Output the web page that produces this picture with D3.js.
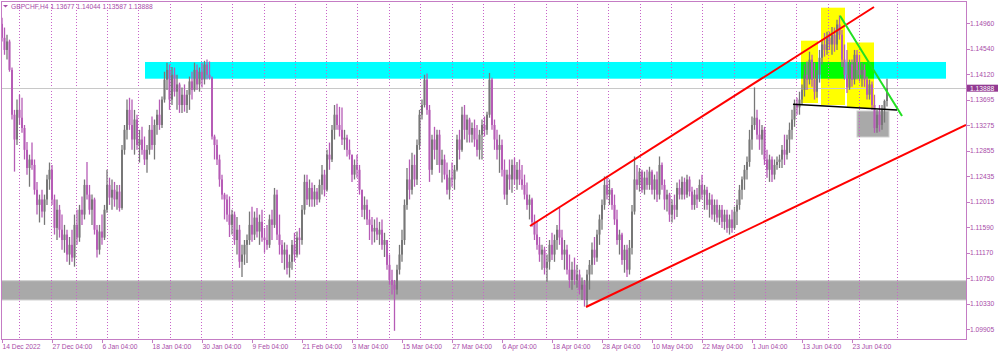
<!DOCTYPE html>
<html>
<head>
<meta charset="utf-8">
<script src="https://cdn.jsdelivr.net/npm/d3@7"></script>
<style>
body { margin: 0; background: #fff; }
svg { display: block; font-family: "Liberation Sans", Arial, sans-serif; }
</style>
</head>
<body>
<div id="chart"></div>
<script>
// GBPCHF H4 bars (open = previous close)
const symbol = "GBPCHF,H4";
const firstOpen = 1.1495;
const highs = [
  1.1505,1.1489,1.1477,1.1469,1.1423,1.1353,1.1370,1.1378,1.1373,1.1328,
  1.1300,1.1279,1.1299,1.1271,1.1234,1.1213,1.1221,1.1213,1.1246,1.1266,
  1.1262,1.1213,1.1205,1.1196,1.1180,1.1163,1.1155,1.1143,1.1155,1.1180,
  1.1188,1.1196,1.1210,1.1238,1.1267,1.1229,1.1213,1.1208,1.1163,1.1163,
  1.1180,1.1196,1.1254,1.1241,1.1238,1.1234,1.1229,1.1229,1.1295,1.1328,
  1.1370,1.1373,1.1370,1.1353,1.1345,1.1320,1.1325,1.1309,1.1295,1.1328,
  1.1342,1.1337,1.1353,1.1370,1.1375,1.1416,1.1431,1.1428,1.1424,1.1423,
  1.1411,1.1398,1.1390,1.1395,1.1386,1.1408,1.1416,1.1431,1.1428,1.1423,
  1.1431,1.1434,1.1436,1.1433,1.1408,1.1312,1.1304,1.1279,1.1246,1.1216,
  1.1213,1.1210,1.1188,1.1185,1.1176,1.1163,1.1130,1.1138,1.1147,1.1185,
  1.1193,1.1185,1.1191,1.1180,1.1188,1.1158,1.1163,1.1180,1.1188,1.1224,
  1.1221,1.1180,1.1138,1.1134,1.1130,1.1114,1.1138,1.1150,1.1152,1.1158,
  1.1196,1.1246,1.1246,1.1238,1.1233,1.1229,1.1224,1.1238,1.1262,1.1254,
  1.1287,1.1299,1.1328,1.1361,1.1363,1.1358,1.1357,1.1320,1.1312,1.1304,
  1.1279,1.1271,1.1279,1.1262,1.1221,1.1210,1.1205,1.1188,1.1176,1.1172,
  1.1175,1.1168,1.1172,1.1150,1.1138,1.1114,1.1089,1.1072,1.1097,1.1130,
  1.1155,1.1205,1.1257,1.1271,1.1282,1.1279,1.1304,1.1353,1.1370,1.1411,
  1.1413,1.1361,1.1312,1.1325,1.1320,1.1320,1.1287,1.1279,1.1266,1.1254,
  1.1266,1.1262,1.1312,1.1320,1.1358,1.1361,1.1345,1.1340,1.1332,1.1337,
  1.1328,1.1320,1.1337,1.1342,1.1350,1.1414,1.1406,1.1337,1.1320,1.1312,
  1.1304,1.1271,1.1254,1.1271,1.1271,1.1274,1.1267,1.1271,1.1262,1.1246,
  1.1233,1.1213,1.1208,1.1180,1.1168,1.1143,1.1130,1.1127,1.1114,1.1138,
  1.1150,1.1147,1.1163,1.1191,1.1155,1.1138,1.1130,1.1114,1.1102,1.1109,
  1.1097,1.1089,1.1076,1.1072,1.1089,1.1105,1.1134,1.1143,1.1155,1.1180,
  1.1205,1.1243,1.1244,1.1238,1.1224,1.1213,1.1188,1.1155,1.1150,1.1130,
  1.1130,1.1138,1.1196,1.1276,1.1262,1.1257,1.1254,1.1251,1.1254,1.1259,
  1.1254,1.1246,1.1251,1.1276,1.1266,1.1238,1.1221,1.1216,1.1205,1.1213,
  1.1233,1.1238,1.1243,1.1241,1.1246,1.1243,1.1226,1.1221,1.1224,1.1238,
  1.1246,1.1229,1.1226,1.1216,1.1213,1.1205,1.1205,1.1196,1.1196,1.1188,
  1.1188,1.1180,1.1188,1.1193,1.1205,1.1229,1.1243,1.1262,1.1276,1.1320,
  1.1342,1.1390,1.1353,1.1337,1.1328,1.1325,1.1287,1.1279,1.1276,1.1271,
  1.1276,1.1279,1.1295,1.1312,1.1312,1.1332,1.1353,1.1370,1.1373,1.1383,
  1.1395,1.1428,1.1433,1.1449,1.1444,1.1431,1.1419,1.1452,1.1469,1.1480,
  1.1482,1.1482,1.1490,1.1489,1.1502,1.1509,1.1485,1.1461,1.1452,1.1436,
  1.1436,1.1452,1.1452,1.1444,1.1431,1.1428,1.1408,1.1403,1.1400,1.1378,
  1.1353,1.1361,1.1361,1.1370,1.14044
];
const lows = [
  1.1466,1.1444,1.1436,1.1416,1.1337,1.1251,1.1295,1.1328,1.1315,1.1271,
  1.1246,1.1226,1.1254,1.1213,1.1180,1.1167,1.1175,1.1163,1.1196,1.1221,
  1.1196,1.1147,1.1138,1.1142,1.1122,1.1117,1.1102,1.1097,1.1102,1.1094,
  1.1130,1.1135,1.1163,1.1172,1.1205,1.1180,1.1163,1.1147,1.1109,1.1114,
  1.1130,1.1138,1.1183,1.1196,1.1188,1.1193,1.1188,1.1185,1.1188,1.1279,
  1.1304,1.1320,1.1287,1.1279,1.1287,1.1266,1.1279,1.1262,1.1249,1.1279,
  1.1287,1.1271,1.1312,1.1320,1.1323,1.1365,1.1386,1.1353,1.1361,1.1375,
  1.1353,1.1348,1.1348,1.1350,1.1348,1.1353,1.1370,1.1383,1.1386,1.1383,
  1.1390,1.1395,1.1403,1.1403,1.1304,1.1271,1.1262,1.1226,1.1205,1.1172,
  1.1168,1.1143,1.1147,1.1130,1.1114,1.1092,1.1077,1.1097,1.1100,1.1130,
  1.1135,1.1138,1.1142,1.1130,1.1135,1.1117,1.1122,1.1125,1.1138,1.1158,
  1.1138,1.1114,1.1100,1.1089,1.1081,1.1076,1.1089,1.1102,1.1109,1.1114,
  1.1130,1.1180,1.1196,1.1193,1.1193,1.1193,1.1196,1.1200,1.1213,1.1210,
  1.1218,1.1254,1.1267,1.1304,1.1320,1.1309,1.1295,1.1287,1.1276,1.1271,
  1.1234,1.1238,1.1241,1.1213,1.1176,1.1172,1.1163,1.1138,1.1130,1.1134,
  1.1138,1.1130,1.1122,1.1110,1.1089,1.1064,1.1048,1.0988,1.1048,1.1081,
  1.1102,1.1130,1.1188,1.1205,1.1213,1.1226,1.1229,1.1287,1.1337,1.1357,
  1.1345,1.1234,1.1246,1.1271,1.1262,1.1249,1.1233,1.1238,1.1213,1.1205,
  1.1226,1.1221,1.1251,1.1271,1.1284,1.1304,1.1299,1.1299,1.1299,1.1292,
  1.1276,1.1271,1.1271,1.1309,1.1312,1.1340,1.1320,1.1287,1.1271,1.1249,
  1.1243,1.1205,1.1196,1.1221,1.1216,1.1229,1.1221,1.1229,1.1221,1.1205,
  1.1188,1.1172,1.1160,1.1138,1.1122,1.1102,1.1089,1.1081,1.1069,1.1089,
  1.1105,1.1102,1.1122,1.1130,1.1105,1.1089,1.1081,1.1059,1.1056,1.1064,
  1.1059,1.1048,1.1039,1.1028,1.1028,1.1056,1.1081,1.1097,1.1102,1.1130,
  1.1155,1.1188,1.1205,1.1196,1.1188,1.1163,1.1130,1.1114,1.1097,1.1084,
  1.1077,1.1081,1.1114,1.1180,1.1221,1.1218,1.1216,1.1213,1.1221,1.1221,
  1.1213,1.1205,1.1201,1.1205,1.1221,1.1188,1.1185,1.1168,1.1167,1.1172,
  1.1176,1.1205,1.1205,1.1205,1.1208,1.1210,1.1188,1.1188,1.1191,1.1201,
  1.1205,1.1188,1.1188,1.1175,1.1172,1.1168,1.1167,1.1163,1.1158,1.1155,
  1.1150,1.1147,1.1150,1.1155,1.1163,1.1188,1.1205,1.1221,1.1238,1.1259,
  1.1287,1.1320,1.1304,1.1287,1.1279,1.1262,1.1241,1.1234,1.1234,1.1238,
  1.1254,1.1257,1.1257,1.1262,1.1271,1.1282,1.1304,1.1325,1.1345,1.1345,
  1.1361,1.1375,1.1386,1.1395,1.1391,1.1370,1.1373,1.1398,1.1428,1.1441,
  1.1444,1.1452,1.1444,1.1449,1.1452,1.1469,1.1424,1.1403,1.1381,1.1386,
  1.1391,1.1395,1.1403,1.1400,1.1391,1.1391,1.1370,1.1370,1.1353,1.1315,
  1.1315,1.1317,1.1320,1.1332,1.13587
];
const closes = [
  1.1472,1.1452,1.1466,1.1419,1.1345,1.1304,1.1353,1.1340,1.1323,1.1287,
  1.1257,1.1271,1.1262,1.1221,1.1196,1.1205,1.1185,1.1205,1.1238,1.1254,
  1.1205,1.1158,1.1188,1.1155,1.1138,1.1147,1.1114,1.1130,1.1109,1.1163,
  1.1142,1.1188,1.1180,1.1229,1.1213,1.1188,1.1205,1.1155,1.1122,1.1152,
  1.1142,1.1188,1.1229,1.1208,1.1221,1.1205,1.1218,1.1191,1.1287,1.1320,
  1.1353,1.1328,1.1304,1.1337,1.1295,1.1304,1.1287,1.1271,1.1287,1.1320,
  1.1295,1.1328,1.1345,1.1328,1.1370,1.1403,1.1419,1.1370,1.1411,1.1383,
  1.1395,1.1361,1.1378,1.1361,1.1378,1.1400,1.1386,1.1419,1.1395,1.1416,
  1.1403,1.1428,1.1411,1.1406,1.1309,1.1295,1.1271,1.1238,1.1213,1.1205,
  1.1180,1.1163,1.1180,1.1138,1.1155,1.1102,1.1114,1.1130,1.1138,1.1163,
  1.1147,1.1175,1.1152,1.1168,1.1142,1.1138,1.1130,1.1172,1.1163,1.1213,
  1.1147,1.1130,1.1114,1.1122,1.1092,1.1102,1.1130,1.1114,1.1142,1.1138,
  1.1188,1.1234,1.1205,1.1224,1.1205,1.1218,1.1205,1.1229,1.1246,1.1221,
  1.1279,1.1271,1.1320,1.1345,1.1328,1.1320,1.1304,1.1307,1.1287,1.1279,
  1.1246,1.1262,1.1254,1.1221,1.1188,1.1196,1.1172,1.1163,1.1152,1.1158,
  1.1147,1.1155,1.1130,1.1138,1.1097,1.1072,1.1064,1.1056,1.1089,1.1114,
  1.1138,1.1196,1.1238,1.1221,1.1262,1.1238,1.1295,1.1345,1.1361,1.1403,
  1.1353,1.1254,1.1304,1.1287,1.1312,1.1262,1.1271,1.1246,1.1221,1.1241,
  1.1238,1.1254,1.1304,1.1287,1.1345,1.1320,1.1337,1.1312,1.1323,1.1304,
  1.1287,1.1312,1.1328,1.1320,1.1345,1.1403,1.1328,1.1304,1.1287,1.1295,
  1.1254,1.1213,1.1246,1.1238,1.1262,1.1238,1.1254,1.1238,1.1229,1.1213,
  1.1196,1.1205,1.1168,1.1147,1.1130,1.1114,1.1122,1.1092,1.1102,1.1130,
  1.1114,1.1138,1.1155,1.1142,1.1114,1.1122,1.1089,1.1072,1.1089,1.1072,
  1.1081,1.1056,1.1064,1.1039,1.1081,1.1097,1.1122,1.1109,1.1147,1.1172,
  1.1196,1.1229,1.1213,1.1221,1.1196,1.1172,1.1138,1.1147,1.1105,1.1122,
  1.1089,1.1125,1.1185,1.1238,1.1229,1.1251,1.1221,1.1241,1.1229,1.1251,
  1.1221,1.1238,1.1213,1.1262,1.1229,1.1205,1.1213,1.1180,1.1196,1.1188,
  1.1224,1.1213,1.1234,1.1213,1.1238,1.1218,1.1196,1.1213,1.1205,1.1229,
  1.1213,1.1221,1.1196,1.1205,1.1180,1.1196,1.1175,1.1188,1.1168,1.1180,
  1.1158,1.1172,1.1158,1.1185,1.1196,1.1221,1.1238,1.1254,1.1267,1.1304,
  1.1328,1.1340,1.1312,1.1304,1.1320,1.1271,1.1254,1.1271,1.1246,1.1262,
  1.1267,1.1271,1.1287,1.1279,1.1304,1.1320,1.1337,1.1361,1.1357,1.1370,
  1.1386,1.1411,1.1403,1.1436,1.1403,1.1383,1.1411,1.1439,1.1461,1.1452,
  1.1472,1.1461,1.1477,1.1461,1.1494,1.1477,1.1436,1.1411,1.1390,1.1428,
  1.1403,1.1444,1.1419,1.1411,1.1419,1.1403,1.1378,1.1395,1.1361,1.1323,
  1.1345,1.1328,1.1353,1.13677,1.13888
];

// axes
const priceTicks = [1.14960, 1.14540, 1.14120, 1.13695, 1.13275, 1.12855, 1.12435,
  1.12015, 1.11590, 1.11170, 1.10750, 1.10330, 1.09905];
const dateLabels = ["14 Dec 2022", "27 Dec 04:00", "6 Jan 04:00", "18 Jan 04:00", "30 Jan 04:00",
  "9 Feb 04:00", "21 Feb 04:00", "3 Mar 04:00", "15 Mar 04:00", "27 Mar 04:00", "6 Apr 04:00",
  "18 Apr 04:00", "28 Apr 04:00", "10 May 04:00", "22 May 04:00", "1 Jun 04:00", "13 Jun 04:00",
  "23 Jun 04:00"];
const labelBars = [0, 20, 40, 60, 80, 100, 120, 140, 160, 180, 200, 220, 240, 260, 280, 300, 320, 340];
const separatorBars = [6.9, 19.5, 29.6, 42.1, 54.5, 67.1, 79.7, 92.1, 104.7, 117.2, 129.7, 142.1,
  154.7, 167.3, 179.9, 192.4, 204.9, 217.5, 230, 242.5, 255.1, 267.6, 280.1, 292.7, 305.1,
  317.6, 330.3, 342.8, 357.9];
const lastPrice = 1.13888;

// drawn objects: [bar from, bar to, price a, price b]
const supportZone = [-2, 390, 1.10389, 1.10708];
const resistanceZone = [57.2, 377.6, 1.14045, 1.14321];
const retestBox = [342, 354.8, 1.13082, 1.13511];
const shoulderBoxes = [
  [319.6, 326.4, 1.13643, 1.14673],
  [327.6, 337.2, 1.13610, 1.15218],
  [338.0, 348.8, 1.13561, 1.14643]
];
const upperChannel = [[211.2, 1.11611], [348.8, 1.15229]];
const lowerChannel = [[233.6, 1.10273], [385.6, 1.13280]];
const slopeLine = [[335.2, 1.15086], [360.0, 1.13429]];
const neckLine = [[316.4, 1.13622], [358.0, 1.13528]];

const width = 1000, height = 352;
const plot = { left: 1, top: 1, right: 966, bottom: 339 };
const axisColor = "#c47cc4", textColor = "#a84ca8";
const bullColor = "#777777", bearColor = "#b65cb6";

const svg = d3.select("#chart")
    .append("svg")
    .attr("width", width)
    .attr("height", height);

svg.append("rect").attr("width", width).attr("height", height).attr("fill", "#fff");

const x = d3.scaleLinear().domain([0, 385.6]).range([2, 966]);
const y = d3.scaleLinear().domain([1.09905, 1.14960]).range([329.3, 23.3]);

svg.append("defs").append("clipPath").attr("id", "plotclip")
    .append("rect")
    .attr("x", plot.left).attr("y", plot.top)
    .attr("width", plot.right - plot.left).attr("height", plot.bottom - plot.top);

const g = svg.append("g").attr("clip-path", "url(#plotclip)");

// zones
function zone(z, fill) {
    return g.append("rect")
        .attr("x", x(z[0]))
        .attr("width", x(z[1]) - x(z[0]))
        .attr("y", y(Math.max(z[2], z[3])))
        .attr("height", Math.abs(y(z[2]) - y(z[3])))
        .attr("fill", fill);
}
zone(supportZone, "#a9a9a9").attr("stroke", "#d0d0d0").attr("stroke-width", 1);
zone(resistanceZone, "#00ffff");
zone(retestBox, "#a9a9a9").attr("stroke", "#d0d0d0").attr("stroke-width", 1);
shoulderBoxes.forEach(b => zone(b, "#ffff00").style("mix-blend-mode", "multiply"));

// weekly separators
g.selectAll("line.sep")
    .data(separatorBars)
    .enter()
    .append("line")
    .attr("class", "sep")
    .attr("x1", d => Math.round(x(d)) + 0.5)
    .attr("x2", d => Math.round(x(d)) + 0.5)
    .attr("y1", plot.top)
    .attr("y2", plot.bottom)
    .attr("stroke", "#c864c8")
    .attr("stroke-width", 1)
    .attr("stroke-dasharray", "1,2");

// current price line
g.append("line")
    .attr("x1", plot.left).attr("x2", plot.right)
    .attr("y1", Math.round(y(lastPrice)) + 0.5).attr("y2", Math.round(y(lastPrice)) + 0.5)
    .attr("stroke", "#c8c8c8").attr("stroke-width", 1);

// bars
const bars = closes.map((c, i) => ({
    i: i,
    o: i === 0 ? firstOpen : closes[i - 1],
    h: highs[i],
    l: lows[i],
    c: c
}));

const candle = g.selectAll("g.bar")
    .data(bars)
    .enter()
    .append("g")
    .attr("class", "bar");

candle.append("line")
    .attr("x1", d => x(d.i))
    .attr("x2", d => x(d.i))
    .attr("y1", d => y(Math.max(d.h, d.o, d.c)))
    .attr("y2", d => y(Math.min(d.l, d.o, d.c)))
    .attr("stroke", d => d.c >= d.o ? bullColor : bearColor)
    .attr("stroke-width", 1.3);

candle.append("rect")
    .attr("x", d => x(d.i) - 1)
    .attr("width", 2)
    .attr("y", d => y(Math.max(d.o, d.c)))
    .attr("height", d => Math.max(1, Math.abs(y(d.o) - y(d.c))))
    .attr("fill", d => d.c >= d.o ? bullColor : bearColor);

// trend lines
function trend(pts, color, w) {
    g.append("line")
        .attr("x1", x(pts[0][0])).attr("y1", y(pts[0][1]))
        .attr("x2", x(pts[1][0])).attr("y2", y(pts[1][1]))
        .attr("stroke", color)
        .attr("stroke-width", w);
}
trend(upperChannel, "#ff0000", 2);
trend(lowerChannel, "#ff0000", 2);
trend(slopeLine, "#22e022", 2);
trend(neckLine, "#000000", 1.6);

// frame
const frame = svg.append("g").attr("stroke", axisColor).attr("stroke-width", 1).attr("fill", "none");
frame.append("line").attr("x1", 1.5).attr("x2", 1.5).attr("y1", 1).attr("y2", plot.bottom + 1);
frame.append("line").attr("x1", 1).attr("x2", plot.right + 1).attr("y1", 1.5).attr("y2", 1.5);
frame.append("line").attr("x1", plot.right + 0.5).attr("x2", plot.right + 0.5).attr("y1", 1).attr("y2", plot.bottom + 1);
frame.append("line").attr("x1", 1).attr("x2", plot.right + 1).attr("y1", plot.bottom + 0.5).attr("y2", plot.bottom + 0.5);

// price axis
const pAxis = svg.append("g");
pAxis.selectAll("line")
    .data(priceTicks)
    .enter()
    .append("line")
    .attr("x1", plot.right).attr("x2", plot.right + 4)
    .attr("y1", d => Math.round(y(d)) + 0.5).attr("y2", d => Math.round(y(d)) + 0.5)
    .attr("stroke", axisColor);
pAxis.selectAll("text")
    .data(priceTicks)
    .enter()
    .append("text")
    .attr("x", plot.right + 4)
    .attr("y", d => y(d) + 2.4)
    .attr("font-size", 6.7)
    .attr("fill", textColor)
    .text(d => d.toFixed(5));

// current price tag
svg.append("rect")
    .attr("x", plot.right + 1).attr("y", y(lastPrice) - 3.5)
    .attr("width", 31).attr("height", 7)
    .attr("fill", "#923a92");
svg.append("text")
    .attr("x", plot.right + 4).attr("y", y(lastPrice) + 2.4)
    .attr("font-size", 6.7)
    .attr("fill", "#fff")
    .text(lastPrice.toFixed(5));

// time axis
const tAxis = svg.append("g");
tAxis.selectAll("line")
    .data(labelBars)
    .enter()
    .append("line")
    .attr("x1", d => Math.round(x(d)) + 0.5).attr("x2", d => Math.round(x(d)) + 0.5)
    .attr("y1", plot.bottom).attr("y2", plot.bottom + 4)
    .attr("stroke", axisColor);
tAxis.selectAll("text")
    .data(labelBars)
    .enter()
    .append("text")
    .attr("x", d => x(d) + 0.5)
    .attr("y", 348.5)
    .attr("font-size", 6.7)
    .attr("fill", textColor)
    .text((d, i) => dateLabels[i]);

// header
const last = bars[bars.length - 1];
svg.append("path")
    .attr("d", "M3,5L8,5L5.5,7.5Z")
    .attr("fill", textColor);
svg.append("text")
    .attr("x", 11).attr("y", 9)
    .attr("font-size", 6.7)
    .attr("fill", textColor)
    .text(symbol + " " + [last.o, last.h, last.l, last.c].map(v => v.toFixed(5)).join(" "));
</script>
</body>
</html>
